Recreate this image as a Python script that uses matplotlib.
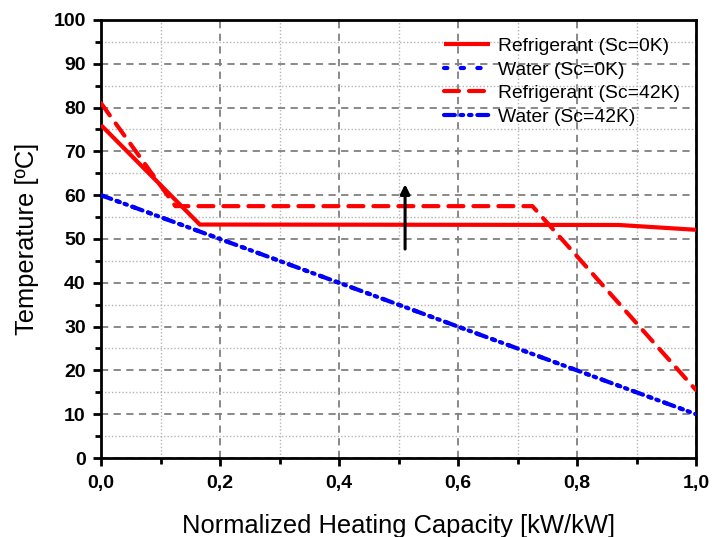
import matplotlib
matplotlib.use("Agg")
import matplotlib.pyplot as plt
from matplotlib.ticker import MultipleLocator, FuncFormatter

plt.rcParams['font.family'] = ['Liberation Sans', 'DejaVu Sans']

# Data
ref0_x = [0.0, 0.166, 0.87, 1.0]
ref0_y = [76.0, 53.3, 53.2, 52.1]
water0_x = [0.0, 0.2, 0.4, 0.6, 0.8, 1.0]
water0_y = [60.0, 50.0, 40.0, 30.0, 20.0, 10.0]
ref42_x = [0.0, 0.125, 0.725, 1.0]
ref42_y = [81.0, 57.5, 57.5, 15.5]
water42_x = [0.0, 0.2, 0.4, 0.6, 0.8, 1.0]
water42_y = [60.0, 50.0, 40.0, 30.0, 20.0, 10.0]
arrow_x = 0.511
arrow_y = [47.7, 62.5]

labels = ["Refrigerant (Sc=0K)", "Water (Sc=0K)", "Refrigerant (Sc=42K)", "Water (Sc=42K)"]

fig = plt.figure(figsize=(7.13, 5.37), dpi=100)
ax = fig.add_axes([0.1417, 0.1471, 0.8345, 0.8157])

lw = 3.0
ax.plot(ref0_x, ref0_y, color='#ff0000', lw=lw, solid_capstyle='butt', label=labels[0], zorder=5)
ax.plot(water0_x, water0_y, color='#0000ff', lw=lw, linestyle=(0, (0.8, 3.2)),
        dash_capstyle='round', label=labels[1], zorder=4)
ax.plot(ref42_x, ref42_y, color='#ff0000', lw=lw, linestyle=(0, (3.6, 2.4)),
        dash_capstyle='round', label=labels[2], zorder=5)
ax.plot(water42_x, water42_y, color='#0000ff', lw=lw, linestyle=(0, (2.6, 1.4, 0.6, 1.4, 0.6, 1.4)),
        dash_capstyle='round', label=labels[3], zorder=4)

ax.annotate("", xy=(arrow_x, arrow_y[1]), xytext=(arrow_x, arrow_y[0]),
            arrowprops=dict(arrowstyle='-|>', color='black', lw=2.2, mutation_scale=14,
                            shrinkA=0, shrinkB=0), zorder=6)

ax.set_xlim(0, 1.0)
ax.set_ylim(0, 100)
ax.xaxis.set_major_locator(MultipleLocator(0.2))
ax.xaxis.set_minor_locator(MultipleLocator(0.1))
ax.yaxis.set_major_locator(MultipleLocator(10))
ax.yaxis.set_minor_locator(MultipleLocator(5))
ax.xaxis.set_major_formatter(FuncFormatter(lambda v, p: f"{v:.1f}".replace('.', ',')))
ax.yaxis.set_major_formatter(FuncFormatter(lambda v, p: f"{int(round(v))}"))

ax.grid(which='major', color='#808080', linestyle=(0, (4, 3)), lw=1.3)
ax.grid(which='minor', color='#b4b4b4', linestyle=(0, (1, 1.5)), lw=1.0)
ax.set_axisbelow(True)

for s in ax.spines.values():
    s.set_linewidth(2.0)
    s.set_color('black')

ax.tick_params(which='major', direction='out', length=6, width=2, labelsize=14, pad=5,
               top=False, right=False)
ax.tick_params(axis='x', which='major', pad=6)
ax.tick_params(which='minor', direction='out', length=4, width=2, top=False, right=False)
for t in ax.get_xticklabels() + ax.get_yticklabels():
    t.set_fontweight('bold')

ax.set_xlabel("Normalized Heating Capacity [kW/kW]", fontsize=18.4, labelpad=16)
ax.set_ylabel("Temperature [ºC]", fontsize=18.4, labelpad=10)

leg = ax.legend(loc='upper right', frameon=False, fontsize=13.9, handlelength=2.35,
                handletextpad=0.42, labelspacing=0.32, borderaxespad=0.5,
                bbox_to_anchor=(1.002, 1.0))

fig.savefig("out.png", dpi=100)
